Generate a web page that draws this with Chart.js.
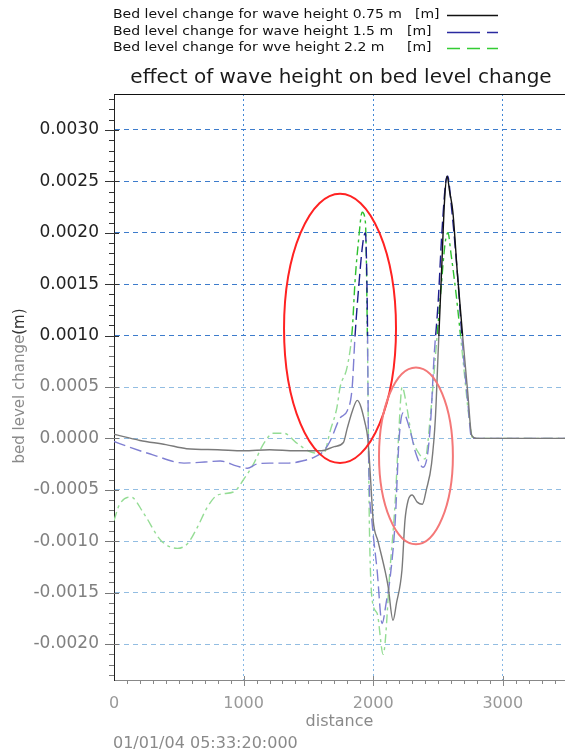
<!DOCTYPE html>
<html>
<head>
<meta charset="utf-8">
<script src="https://cdn.jsdelivr.net/npm/chart.js@4"></script>
<style>
  html, body { margin: 0; padding: 0; background: #fff; }
  #wrap { width: 565px; height: 753px; }
</style>
</head>
<body>
<div id="wrap"><canvas id="chart" width="565" height="753"></canvas></div>
<script>
const FONT = "'DejaVu Sans', 'Liberation Sans', sans-serif";
const X_MIN = 0, X_MAX = 3480;
const Y_MIN = -0.00235, Y_MAX = 0.00335;
const SPLIT = 0.001; // the picture is darker above this level

const xTicks = [0, 1000, 2000, 3000];
const yTicks = [-0.002, -0.0015, -0.001, -0.0005, 0, 0.0005, 0.001, 0.0015, 0.002, 0.0025, 0.003];

const seriesNames = [
  "Bed level change for wave height 0.75 m",
  "Bed level change for wave height 1.5 m",
  "Bed level change for wve height 2.2 m"
];
const seriesUnit = "[m]";

// wave height 0.75 m
const dist075 = [0, 200, 400, 560, 800, 1000, 1200, 1400, 1600, 1700, 1770, 1800, 1840, 1877, 1937, 1960, 1980,
  2000, 2037, 2090, 2115, 2153, 2180, 2222, 2245, 2270, 2300, 2340, 2380, 2410, 2450, 2480, 2500, 2530, 2550,
  2570, 2590, 2615, 2650, 2690, 2730, 2760, 2800, 3480];
const bed075 = [0.00004, -0.00002, -0.00006, -0.0001, -0.00011, -0.00012, -0.00011, -0.00012, -0.00012, -0.00008,
  -0.00004, 0.0001, 0.00027, 0.00037, 0.00015, -0.00002, -0.0004, -0.0008, -0.001, -0.00128, -0.00144, -0.00177,
  -0.0016, -0.00128, -0.0008, -0.0006, -0.00055, -0.00062, -0.00064, -0.0005, -0.00025, 0.0002, 0.0008, 0.0017,
  0.0023, 0.00255, 0.0024, 0.0022, 0.0016, 0.001, 0.00044, 0.00003, 0, 0];

// wave height 1.5 m
const dist15 = [0, 130, 300, 540, 700, 820, 950, 1030, 1100, 1200, 1350, 1450, 1550, 1620, 1670, 1745, 1800, 1838,
  1860, 1890, 1920, 1940, 1955, 1965, 1990, 2030, 2069, 2100, 2131, 2170, 2200, 2231, 2280, 2330, 2385, 2420,
  2445, 2470, 2500, 2530, 2560, 2575, 2600, 2650, 2690, 2730, 2760, 2800, 3480];
const bed15 = [-0.00003, -0.00009, -0.00016, -0.00024, -0.00023, -0.00022, -0.00027, -0.00029, -0.00025, -0.00024,
  -0.00024, -0.00022, -0.00018, -0.00012, -0.00002, 0.0002, 0.00027, 0.0005, 0.001, 0.0015, 0.0019, 0.002, 0.0012,
  -0.0002, -0.0008, -0.00128, -0.0018, -0.0016, -0.00135, -0.0008, 0.0, 0.00025, 0.0001, -0.00015, -0.00028,
  -0.00015, 0.0002, 0.0008, 0.0013, 0.002, 0.0025, 0.00255, 0.0023, 0.0016, 0.0009, 0.00035, 0.0, 0, 0];

// wave height 2.2 m
const dist22 = [0, 40, 130, 230, 360, 490, 570, 645, 720, 800, 925, 1000, 1080, 1155, 1230, 1310, 1415, 1515, 1615,
  1670, 1720, 1745, 1800, 1838, 1860, 1885, 1915, 1940, 1955, 1970, 1992, 2030, 2077, 2131, 2169, 2195, 2223, 2260,
  2300, 2340, 2400, 2440, 2480, 2520, 2555, 2577, 2600, 2640, 2690, 2740, 2770, 2800, 3480];
const bed22 = [-0.0008, -0.00065, -0.00057, -0.00073, -0.00099, -0.00107, -0.00102, -0.00086, -0.00067, -0.00055,
  -0.00052, -0.0004, -0.00024, -0.00005, 0.00005, 0.00005, -0.00005, -0.00013, -0.00015, 0.00008, 0.0003, 0.0005,
  0.0007, 0.00105, 0.00153, 0.0019, 0.0022, 0.0021, 0.001, -0.0008, -0.00157, -0.0017, -0.0021, -0.00125, -0.00063,
  0.0, 0.0005, 0.0003, 0.0, -0.00012, -0.0002, 0.0002, 0.0008, 0.0014, 0.0019, 0.002, 0.0018, 0.0014, 0.0008,
  0.0002, 0.0, 0, 0];

// hand drawn red rings, in data units
const rings = [
  { x: 1744, y: 0.00107, rx: 432, ry: 0.00131, color: "#ff2222" },
  { x: 2330, y: -0.00017, rx: 285, ry: 0.00086, color: "#f47878" }
];

function points(xs, ys) {
  return xs.map((x, i) => ({ x: x, y: ys[i] }));
}

function splitGradient(chart, dark, light) {
  const area = chart.chartArea;
  if (!area || !chart.scales.y) return light;
  const yPx = chart.scales.y.getPixelForValue(SPLIT);
  const s = Math.min(1, Math.max(0, (yPx - area.top) / (area.bottom - area.top)));
  const g = chart.ctx.createLinearGradient(0, area.top, 0, area.bottom);
  g.addColorStop(0, dark);
  g.addColorStop(s, dark);
  g.addColorStop(s, light);
  g.addColorStop(1, light);
  return g;
}

const decorations = {
  id: "decorations",
  afterDraw(chart) {
    const { ctx, chartArea: a, scales: { x, y } } = chart;
    const splitPx = y.getPixelForValue(SPLIT);
    ctx.save();

    // rings
    ctx.lineWidth = 2;
    rings.forEach(r => {
      const cx = x.getPixelForValue(r.x);
      const cy = y.getPixelForValue(r.y);
      const rx = x.getPixelForValue(r.x + r.rx) - cx;
      const ry = cy - y.getPixelForValue(r.y + r.ry);
      ctx.strokeStyle = r.color;
      ctx.beginPath();
      ctx.ellipse(cx, cy, rx, ry, 0, 0, Math.PI * 2);
      ctx.stroke();
    });

    // top frame
    ctx.lineWidth = 1;
    ctx.strokeStyle = "#111";
    ctx.beginPath();
    ctx.moveTo(a.left, Math.round(a.top) + 0.5);
    ctx.lineTo(a.right, Math.round(a.top) + 0.5);
    ctx.stroke();

    // y ticks, minor every 0.0001
    for (let i = Math.ceil(Y_MIN / 0.0001); i <= Math.floor(Y_MAX / 0.0001); i++) {
      const v = i * 0.0001;
      const py = Math.round(y.getPixelForValue(v)) + 0.5;
      const major = i % 5 === 0;
      ctx.strokeStyle = v >= SPLIT - 1e-9 ? "#333" : "#777";
      ctx.beginPath();
      ctx.moveTo(a.left - (major ? 9 : 5), py);
      ctx.lineTo(a.left + (major ? 5 : 0), py);
      ctx.stroke();
    }
    // x ticks, minor every 100
    ctx.strokeStyle = "#888";
    ctx.beginPath();
    for (let i = 1; i * 100 <= X_MAX; i++) {
      const px = Math.round(x.getPixelForValue(i * 100)) + 0.5;
      const major = i % 10 === 0;
      ctx.moveTo(px, a.bottom - (major ? 4 : 0));
      ctx.lineTo(px, a.bottom + (major ? 6 : 4));
    }
    ctx.stroke();

    // title
    ctx.fillStyle = "#1a1a1a";
    ctx.font = "20px " + FONT;
    ctx.textAlign = "center";
    ctx.textBaseline = "middle";
    ctx.fillText("effect of wave height on bed level change", 341, 78);

    // legend: the source font is wider than it is tall, so stretch it a little
    const rowY = [15, 32, 48];
    const unitX = [415, 407, 407];
    const samples = [
      { color: "#111", dash: [] },
      { color: "#2a2aa0", dash: [33, 7] },
      { color: "#33cc33", dash: [13, 7] }
    ];
    ctx.font = "13px " + FONT;
    ctx.textAlign = "left";
    ctx.fillStyle = "#111";
    const stretch = 289 / ctx.measureText(seriesNames[0]).width;
    seriesNames.forEach((name, i) => {
      ctx.save();
      ctx.translate(113, rowY[i]);
      ctx.scale(stretch, 1);
      ctx.fillText(name, 0, 0);
      ctx.restore();
      ctx.save();
      ctx.translate(unitX[i], rowY[i]);
      ctx.scale(stretch, 1);
      ctx.fillText(seriesUnit, 0, 0);
      ctx.restore();
      ctx.strokeStyle = samples[i].color;
      ctx.lineWidth = 1.5;
      ctx.setLineDash(samples[i].dash);
      ctx.beginPath();
      ctx.moveTo(447, rowY[i] + 0.5);
      ctx.lineTo(498, rowY[i] + 0.5);
      ctx.stroke();
    });
    ctx.setLineDash([]);

    // y title, darker above the split like the rest of the picture
    const tx = 20, ty = 386;
    ctx.translate(tx, ty);
    ctx.rotate(-Math.PI / 2);
    const u = ty - splitPx;
    const g = ctx.createLinearGradient(-200, 0, 200, 0);
    const s = Math.min(1, Math.max(0, (u + 200) / 400));
    g.addColorStop(0, "#8a8a8a");
    g.addColorStop(s, "#8a8a8a");
    g.addColorStop(s, "#333");
    g.addColorStop(1, "#333");
    ctx.fillStyle = g;
    ctx.font = "15px " + FONT;
    ctx.textAlign = "center";
    ctx.fillText("bed level change(m)", 0, 0);
    ctx.setTransform(1, 0, 0, 1, 0, 0);

    // x title and time stamp
    ctx.fillStyle = "#8a8a8a";
    ctx.font = "16px " + FONT;
    ctx.textAlign = "center";
    ctx.fillText("distance", (a.left + a.right) / 2, 722);
    ctx.textAlign = "left";
    ctx.fillText("01/01/04 05:33:20:000", 113, 744);
    ctx.restore();
  }
};

new Chart(document.getElementById("chart"), {
  type: "line",
  data: {
    datasets: [
      {
        label: seriesNames[0],
        data: points(dist075, bed075),
        borderColor: c => splitGradient(c.chart, "#111111", "#7a7a7a"),
        borderWidth: 1.4
      },
      {
        label: seriesNames[1],
        data: points(dist15, bed15),
        borderColor: c => splitGradient(c.chart, "#1c1c8c", "#7f7fd2"),
        borderWidth: 1.4,
        borderDash: [12, 5]
      },
      {
        label: seriesNames[2],
        data: points(dist22, bed22),
        borderColor: c => splitGradient(c.chart, "#2fc02f", "#94dc94"),
        borderWidth: 1.4,
        borderDash: [9, 4, 3, 4]
      }
    ]
  },
  options: {
    responsive: false,
    animation: false,
    devicePixelRatio: 1,
    layout: { padding: { top: 94, right: 0, bottom: 0, left: 0 } },
    elements: {
      point: { radius: 0 },
      line: { cubicInterpolationMode: "monotone", fill: false }
    },
    plugins: {
      legend: { display: false },
      title: { display: false },
      tooltip: { enabled: false }
    },
    scales: {
      x: {
        type: "linear",
        min: X_MIN,
        max: X_MAX,
        afterFit: s => { s.height = 73; },
        afterBuildTicks: s => { s.ticks = xTicks.map(v => ({ value: v })); },
        ticks: {
          autoSkip: false,
          maxRotation: 0,
          padding: 14,
          color: "#999",
          font: { family: FONT, size: 16 },
          callback: v => String(v)
        },
        grid: {
          drawTicks: false,
          color: c => (c.tick && c.tick.value === 0) ? "rgba(0,0,0,0)"
            : splitGradient(c.chart, "#3f86d6", "#86b8e6")
        },
        border: { display: true, color: "#888", width: 1, dash: [2, 3] }
      },
      y: {
        type: "linear",
        min: Y_MIN,
        max: Y_MAX,
        afterFit: s => { s.width = 114; },
        afterBuildTicks: s => { s.ticks = yTicks.map(v => ({ value: v })); },
        ticks: {
          autoSkip: false,
          padding: 15,
          color: c => c.tick.value >= SPLIT - 1e-9 ? "#222" : "#808080",
          font: { family: FONT, size: 17 },
          callback: v => v.toFixed(4)
        },
        grid: {
          drawTicks: false,
          color: c => c.tick && c.tick.value >= SPLIT - 1e-9 ? "#3d7ccc" : "#92bde2"
        },
        border: { display: true, color: "#222", width: 1, dash: [5, 4] }
      }
    }
  },
  plugins: [decorations]
});
</script>
</body>
</html>
